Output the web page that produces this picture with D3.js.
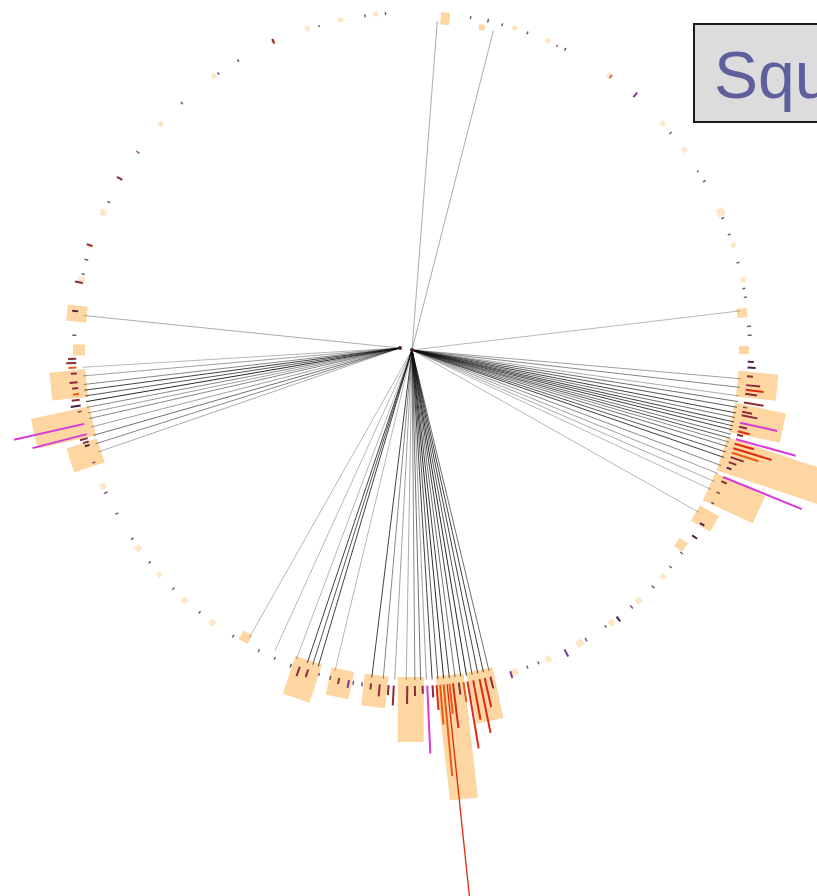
<!DOCTYPE html>
<html>
<head>
<meta charset="utf-8">
<script src="https://cdn.jsdelivr.net/npm/d3@7"></script>
<style>
  html, body { margin: 0; padding: 0; background: #fff; overflow: hidden; }
</style>
</head>
<body>
<div id="chart"></div>
<script>
// angles in degrees, clockwise from 12 o'clock

// highlight boxes: [angle, radial length, tangential width]
const boxes = [
  [5.7, 12, 9], [12.2, 6, 6], [276.2, 20, 16], [270, 12, 11], [264.2, 36, 28],
  [257.5, 60, 30], [252.1, 32, 25], [210.1, 10, 10], [198.4, 40, 28], [192.2, 28, 23],
  [186.2, 32, 24], [180.2, 65, 26], [173.4, 125, 28], [168.1, 52, 27], [125.9, 10, 10],
  [119.9, 22, 18], [114.7, 55, 30], [108.5, 110, 35], [101.9, 52, 30], [95.9, 40, 26],
  [90, 10, 8], [83.6, 10, 9],
];

// faint small squares on the ring: [angle, size]
const dots = [
  [17.7, 5], [23.7, 5], [35.8, 6], [47.9, 5], [53.7, 5], [66.0, 8], [71.9, 5], [78.0, 5],
  [132.1, 5], [137.9, 6], [143.8, 6], [150.2, 7], [156.2, 6], [162.3, 7],
  [216.2, 6], [222.2, 6], [228.4, 5], [234.1, 6], [246.2, 6],
  [281.9, 7], [288, 5], [294.0, 6], [311.9, 5], [324.1, 5], [335.8, 4], [342, 5], [347.8, 5], [353.8, 5],
];

// radial bars: [angle, value, colour key]
const bars = [
  [276.6, 6, 'p'], [272.5, 4, 'p'], [268.5, 8, 'b'], [267.8, 10, 'b'], [267, 8, 'o'],
  [266, 6, 'b'], [264.5, 8, 'b'], [263.5, 6, 'b'], [262.5, 6, 'o'], [261.5, 8, 'b'],
  [260.5, 10, 'p'], [259.5, 4, 'p'], [257.3, 72, 'm'], [255.5, 56, 'm'], [254.8, 8, 'b'],
  [254.2, 6, 'b'], [253.6, 5, 'p'], [250.5, 3, 'p'],
  [288, 6, 'b'], [285.5, 4, 'p'], [283, 3, 'p'], [281.5, 8, 'b'], [296, 3, 'p'],
  [300.4, 6, 'b'], [305.8, 4, 'b'], [317, 3, 'p'], [325, 3, 'p'], [329, 3, 'p'],
  [335.8, 5, 'b'], [344, 2, 'p'], [352, 3, 'p'], [355.5, 3, 'p'],
  [10, 3, 'p'], [13, 4, 'p'], [15.5, 3, 'p'], [20, 3, 'p'], [25.5, 2, 'p'], [27, 3, 'p'],
  [36, 4, 'b'], [41.2, 6, 'v'], [50, 3, 'p'], [58, 2, 'p'], [60, 3, 'p'], [67, 3, 'p'],
  [70, 3, 'p'], [75, 3, 'p'], [79.5, 3, 'p'], [81, 3, 'p'],
  [86, 4, 'p'], [87.5, 4, 'p'], [92, 6, 'p'], [93, 8, 'p'], [94.5, 6, 'b'], [96, 14, 'b'],
  [96.8, 18, 'r'], [97.5, 12, 'b'], [99, 20, 'b'], [99.8, 4, 'p'], [100.6, 10, 'b'],
  [101.2, 16, 'b'], [102.5, 38, 'm'], [103.2, 8, 'b'], [104, 12, 'r'], [104.6, 6, 'b'],
  [105.4, 62, 'm'], [106.2, 20, 'r'], [107, 40, 'r'], [107.8, 28, 'o'], [108.6, 14, 'b'],
  [109.5, 8, 'b'], [110.5, 5, 'p'], [112.2, 85, 'm'], [113, 6, 'b'], [115, 4, 'p'],
  [117, 3, 'p'], [121, 5, 'p'], [123.5, 6, 'p'], [127, 3, 'p'], [130, 3, 'p'],
  [134.5, 4, 'p'], [139.5, 4, 'p'], [142.5, 6, 'p'], [145, 3, 'p'], [149, 4, 'p'],
  [153, 8, 'v'], [158, 3, 'p'], [160, 3, 'p'], [163, 7, 'v'],
  [166.5, 12, 'b'], [167.5, 30, 'r'], [168.4, 55, 'r'], [169.5, 40, 'r'], [170.5, 68, 'r'],
  [171.2, 20, 'o'], [172, 12, 'b'], [173.0, 45, 'r'], [173.6, 30, 'o'], [174.0, 215, 'r'],
  [174.6, 92, 'o'], [175.2, 40, 'o'], [175.8, 25, 'r'], [176.5, 12, 'b'], [177.4, 68, 'm'],
  [178.2, 8, 'b'], [179.5, 10, 'b'], [180.8, 18, 'b'], [183.1, 20, 'b'], [184, 10, 'b'],
  [185.5, 12, 'b'], [187, 6, 'b'], [188.5, 4, 'p'], [190, 4, 'p'], [190.8, 8, 'v'],
  [192.5, 6, 'b'], [194, 4, 'p'], [196, 3, 'p'], [198, 8, 'b'], [199.5, 10, 'b'],
  [201, 4, 'p'], [204, 3, 'p'], [207, 3, 'p'], [212, 3, 'p'], [219, 3, 'p'],
  [225, 3, 'p'], [231, 3, 'p'], [236, 3, 'p'], [241, 3, 'p'], [245, 4, 'p'],
];

// spokes from the hub to the ring: [angle, opacity, hub]
const links = [
  [4.4, 0.35, 'B'], [14.3, 0.35, 'B'], [83.2, 0.3, 'B'],
  [95, 0.4, 'B'], [96.5, 0.5, 'B'], [98, 0.35, 'B'], [99, 0.6, 'B'], [100, 0.7, 'B'],
  [101, 0.8, 'B'], [101.8, 0.6, 'B'], [102.6, 0.8, 'B'], [103.3, 0.7, 'B'], [104, 0.8, 'B'],
  [104.8, 0.6, 'B'], [105.5, 0.7, 'B'], [106.2, 0.5, 'B'], [107, 0.6, 'B'], [108, 0.7, 'B'],
  [109, 0.8, 'B'], [110.5, 0.5, 'B'], [112, 0.4, 'B'], [113.5, 0.35, 'B'], [115, 0.3, 'B'],
  [119.5, 0.3, 'B'],
  [166.5, 0.6, 'B'], [167.5, 0.8, 'B'], [168.5, 0.8, 'B'], [169.5, 0.7, 'B'], [170.5, 0.9, 'B'],
  [171.5, 0.8, 'B'], [172.5, 0.6, 'B'], [173.5, 0.8, 'B'], [174.5, 0.9, 'B'], [175.5, 0.7, 'B'],
  [176.5, 0.8, 'B'], [177.5, 0.4, 'B'], [178.5, 0.6, 'B'], [179.5, 0.5, 'B'], [181, 0.35, 'B'],
  [183, 0.4, 'B'], [185, 0.5, 'B'], [187, 0.8, 'B'], [193.5, 0.3, 'B'], [196.5, 0.8, 'B'],
  [197.5, 0.7, 'B'], [198.5, 0.8, 'B'], [200.5, 0.3, 'B'], [204.5, 0.3, 'B'], [209.5, 0.3, 'B'],
  [276, 0.35, 'A'], [267, 0.3, 'A'], [265.5, 0.4, 'A'], [264, 0.5, 'A'], [263, 0.8, 'A'],
  [262, 0.7, 'A'], [261, 0.9, 'A'], [260, 0.5, 'A'], [259, 0.4, 'A'], [258, 0.5, 'A'],
  [256.5, 0.4, 'A'], [255, 0.6, 'A'], [253.5, 0.5, 'A'], [252, 0.35, 'A'],
];

const barColors = { p: '#4a1f4a', b: '#8c2b3a', r: '#e02a12', o: '#ec5a12', m: '#d83ad8', v: '#7c3a9c' };

const W = 817, H = 896;
const cx = 412, cy = 350;
const hubs = { A: [400, 348], B: [412, 350] };
const R = 338;        // ring radius
const boxStart = 327; // inner edge of boxes
const linkEnd = 330;

const ang = d3.scaleLinear().domain([0, 360]).range([0, 2 * Math.PI]);
const len = d3.scaleLinear().domain([0, 100]).range([0, 100]);
const px = (a, r) => cx + r * Math.sin(ang(a));
const py = (a, r) => cy - r * Math.cos(ang(a));

const svg = d3.select('#chart').append('svg').attr('width', W).attr('height', H);

const ring = svg.append('g').attr('transform', `translate(${cx},${cy})`);

ring.selectAll('rect.box')
  .data(boxes)
  .join('rect')
  .attr('class', 'box')
  .attr('transform', (d) => `rotate(${d[0]})`)
  .attr('x', (d) => -d[2] / 2)
  .attr('y', (d) => -(boxStart + len(d[1])))
  .attr('width', (d) => d[2])
  .attr('height', (d) => len(d[1]))
  .attr('fill', '#fdd6a2');

ring.selectAll('rect.dot')
  .data(dots)
  .join('rect')
  .attr('class', 'dot')
  .attr('transform', (d) => `rotate(${d[0]})`)
  .attr('x', (d) => -d[1] / 2)
  .attr('y', (d) => -(R + d[1] / 2))
  .attr('width', (d) => d[1])
  .attr('height', (d) => d[1])
  .attr('fill', '#fcd7a4')
  .attr('opacity', 0.6);

svg.append('g')
  .selectAll('line')
  .data(links)
  .join('line')
  .attr('x1', (d) => hubs[d[2]][0])
  .attr('y1', (d) => hubs[d[2]][1])
  .attr('x2', (d) => px(d[0], linkEnd))
  .attr('y2', (d) => py(d[0], linkEnd))
  .attr('stroke', '#111')
  .attr('stroke-opacity', (d) => d[1])
  .attr('stroke-width', 1);

svg.append('g')
  .selectAll('line')
  .data(bars)
  .join('line')
  .attr('x1', (d) => px(d[0], R - 2))
  .attr('y1', (d) => py(d[0], R - 2))
  .attr('x2', (d) => px(d[0], R - 2 + len(d[1])))
  .attr('y2', (d) => py(d[0], R - 2 + len(d[1])))
  .attr('stroke', (d) => barColors[d[2]])
  .attr('stroke-opacity', (d) => (d[1] <= 4 ? 0.75 : 1))
  .attr('stroke-width', (d) => (d[1] > 150 ? 1.3 : d[1] <= 4 ? 1.5 : 2))
  .attr('stroke-linecap', 'butt');

svg.selectAll('circle.hub')
  .data(Object.values(hubs))
  .join('circle')
  .attr('class', 'hub')
  .attr('cx', (d) => d[0])
  .attr('cy', (d) => d[1])
  .attr('r', 2)
  .attr('fill', '#4a1f2a');

// title box, cut off by the right edge as in the original
svg.append('rect')
  .attr('x', 694).attr('y', 24)
  .attr('width', 150).attr('height', 98)
  .attr('fill', '#dcdcdc')
  .attr('stroke', '#1a1a1a')
  .attr('stroke-width', 2);
svg.append('text')
  .attr('x', 714).attr('y', 98)
  .attr('font-family', 'Liberation Sans, Arial, sans-serif')
  .attr('font-size', 66)
  .attr('fill', '#5f5f9e')
  .text('Squares');
</script>
</body>
</html>
